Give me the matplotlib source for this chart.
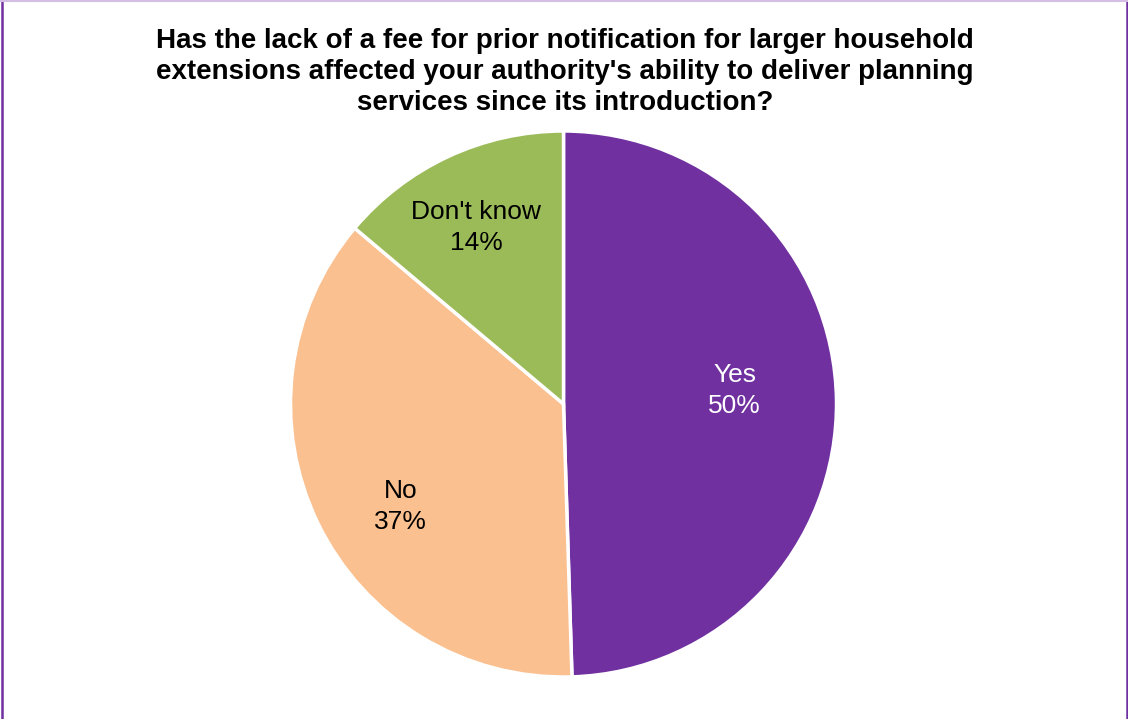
import numpy as np
import matplotlib
matplotlib.use("Agg")
import matplotlib.pyplot as plt
from matplotlib.lines import Line2D
from matplotlib.transforms import offset_copy

plt.rcParams['font.family'] = ['Liberation Sans', 'DejaVu Sans']

title = ("Has the lack of a fee for prior notification for larger household\n"
         "extensions affected your authority's ability to deliver planning\n"
         "services since its introduction?")
categories = ["Yes", "No", "Don't know"]
shares = [50, 37, 14]
colors = ["#7030A0", "#FAC090", "#9BBB59"]
text_colors = ["white", "black", "black"]
label_radius = [0.63, 0.70, 0.73]
label_turn = [4.5, 5.8, 1.0]

W, H = 1128, 719
fig = plt.figure(figsize=(W / 100, H / 100), dpi=100)
fig.patch.set_facecolor("white")

# pie axes: centre (563.5, 404) px from top-left, radius 273 px
cx, cy, r = 563.5, H - 404, 273
ax = fig.add_axes([(cx - r) / W, (cy - r) / H, 2 * r / W, 2 * r / H])
wedges, _ = ax.pie(shares, colors=colors, startangle=90, counterclock=False,
                   radius=1.0,
                   wedgeprops=dict(edgecolor="white", linewidth=2.5))
ax.set_xlim(-1, 1)
ax.set_ylim(-1, 1)
ax.set_aspect("auto")
ax.axis("off")

label_tf = offset_copy(ax.transData, fig=fig, x=0, y=-2.5, units="dots")
for w, cat, val, tc, lr, turn in zip(wedges, categories, shares, text_colors,
                                     label_radius, label_turn):
    mid = np.deg2rad((w.theta1 + w.theta2) / 2 + turn)
    ax.text(lr * np.cos(mid), lr * np.sin(mid), f"{cat}\n{val}%",
            ha="center", va="center", fontsize=19, color=tc,
            linespacing=1.36, transform=label_tf)

fig.text(565 / W, 1 - 72 / H, title, ha="center", va="center",
         fontsize=20, fontweight="bold", linespacing=1.26)

# chart area border
fig.add_artist(Line2D([1.5 / W, 1.5 / W], [0, 1], color="#7030A0", lw=1.8))
fig.add_artist(Line2D([1126.5 / W, 1126.5 / W], [0, 1], color="#7030A0", lw=1.8))
fig.add_artist(Line2D([0, 1], [1 - 0.5 / H, 1 - 0.5 / H], color="#D5BEE6", lw=1.5))

fig.savefig("out.png", dpi=100, facecolor="white")
